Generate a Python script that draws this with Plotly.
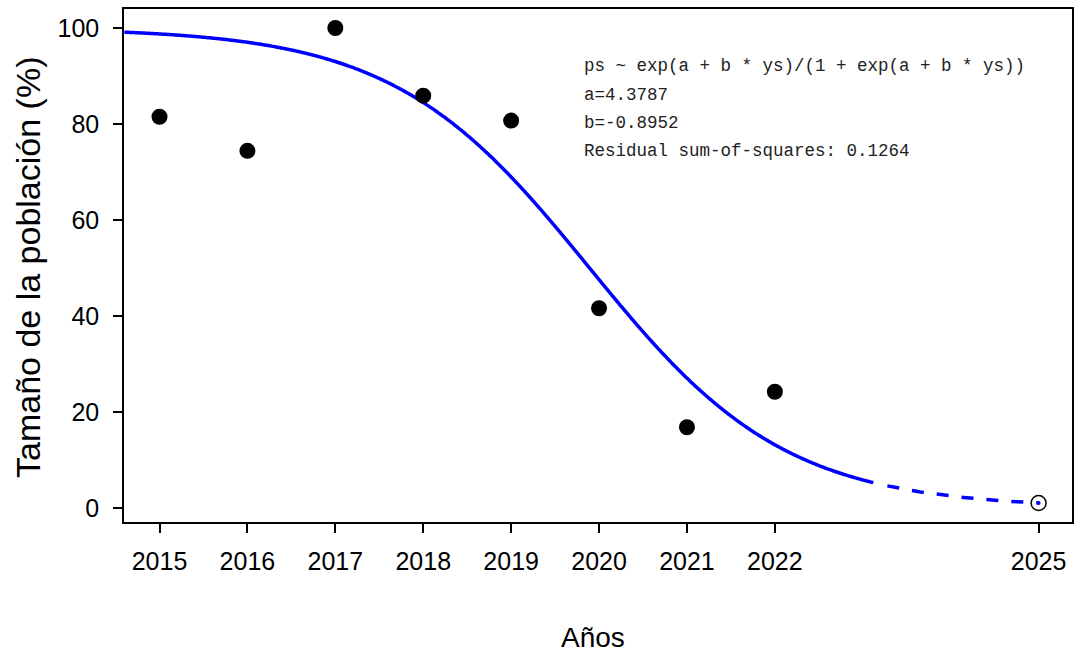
import numpy as np
import plotly.graph_objects as go

# Observed data
years = [2015, 2016, 2017, 2018, 2019, 2020, 2021, 2022]
population = [81.5, 74.4, 100.0, 85.9, 80.7, 41.6, 16.8, 24.2]

# Fitted logistic model parameters (from the chart's annotation)
a = 4.3787
b = -0.8952
base_year = 2015
pred_year = 2025

x_ticks = [2015, 2016, 2017, 2018, 2019, 2020, 2021, 2022, 2025]
y_ticks = [0, 20, 40, 60, 80, 100]

model_lines = [
    "ps ~ exp(a + b * ys)/(1 + exp(a + b * ys))",
    "a=4.3787",
    "b=-0.8952",
    "Residual sum-of-squares: 0.1264",
]


def model(yr):
    ys = np.asarray(yr, dtype=float) - base_year
    e = np.exp(a + b * ys)
    return 100 * e / (1 + e)


x_solid = np.linspace(2014.6, 2023.12, 500)
x_dash = np.linspace(2023.28, pred_year, 120)
pred_val = float(model(pred_year))

fig = go.Figure()
fig.add_trace(go.Scatter(x=x_solid, y=model(x_solid), mode="lines",
                         line=dict(color="#0000FF", width=3.5, shape="spline"),
                         hoverinfo="skip"))
fig.add_trace(go.Scatter(x=x_dash, y=model(x_dash), mode="lines",
                         line=dict(color="#0000FF", width=3.5, dash="12px,13px"),
                         hoverinfo="skip"))
fig.add_trace(go.Scatter(x=years, y=population, mode="markers",
                         marker=dict(color="black", size=16)))
fig.add_trace(go.Scatter(x=[pred_year], y=[pred_val], mode="markers",
                         marker=dict(color="rgba(0,0,0,0)", size=15,
                                     line=dict(color="black", width=1.5))))
fig.add_trace(go.Scatter(x=[pred_year], y=[pred_val], mode="markers",
                         marker=dict(color="#0000FF", size=4)))

font_main = "Liberation Sans, Arial, sans-serif"
axis_common = dict(showline=True, linecolor="black", linewidth=1.5, mirror=True,
                   ticks="outside", ticklen=9, tickwidth=1.5, tickcolor="black",
                   showgrid=False, zeroline=False, automargin=False,
                   tickfont=dict(family=font_main, size=25, color="black"))

fig.update_xaxes(range=[2014.596, 2025.38], tickvals=x_ticks,
                 ticktext=[str(t) for t in x_ticks], ticklabelstandoff=7,
                 **axis_common)
fig.update_yaxes(range=[-2.94, 103.96], tickvals=y_ticks, ticklabelstandoff=9,
                 **axis_common)

# plot box in pixels: left 124, right 1072, top 9, bottom 522
PL, PR, PT, PB = 124, 1072, 9, 522
W, H = 1076, 659


def px_x(px):
    return (px - PL) / (PR - PL)


def px_y(py):
    return (PB - py) / (PB - PT)


line_px = [66, 95, 123, 151]
for txt, py in zip(model_lines, line_px):
    fig.add_annotation(text=txt, xref="paper", yref="paper",
                       x=px_x(582), y=px_y(py),
                       xanchor="left", yanchor="middle", showarrow=False,
                       font=dict(family="Courier New, Liberation Mono, monospace",
                                 size=17.5, color="#222222"))

fig.add_annotation(text="Años", xref="paper", yref="paper",
                   x=px_x(593), y=px_y(637),
                   xanchor="center", yanchor="middle", showarrow=False,
                   font=dict(family=font_main, size=28, color="black"))
fig.add_annotation(text="Tamaño de la población (%)", xref="paper", yref="paper",
                   x=px_x(28), y=px_y(268), textangle=-90,
                   xanchor="center", yanchor="middle", showarrow=False,
                   font=dict(family=font_main, size=34, color="black"))

fig.update_layout(width=W, height=H, showlegend=False,
                  margin=dict(l=PL, r=W - PR, t=PT, b=H - PB),
                  plot_bgcolor="white", paper_bgcolor="white")

fig.write_html("out.html", config={"displayModeBar": False},
               post_script="document.body.style.margin='0';document.body.style.overflow='hidden';")
